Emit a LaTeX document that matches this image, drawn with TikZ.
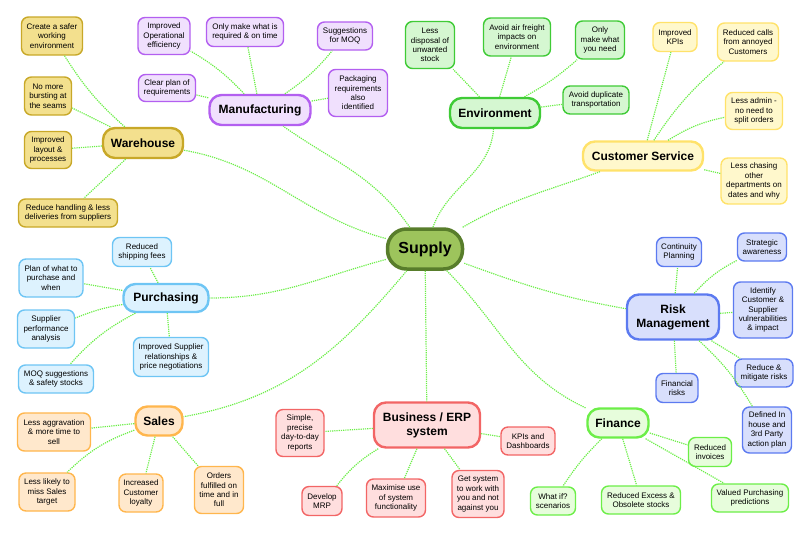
\documentclass[tikz,border=0pt]{standalone}
\usepackage{fontspec}
\setmainfont{Liberation Sans}

\definecolor{supfill}{HTML}{9DC45C}
\definecolor{supline}{HTML}{587D2B}
\definecolor{whfill}{HTML}{F3E08E}
\definecolor{whline}{HTML}{C8A828}
\definecolor{mffill}{HTML}{F0E0FD}
\definecolor{mfline}{HTML}{B35FF0}
\definecolor{envfill}{HTML}{D5F7D1}
\definecolor{envline}{HTML}{3FCB36}
\definecolor{csfill}{HTML}{FFF8CC}
\definecolor{csline}{HTML}{FFE26A}
\definecolor{purfill}{HTML}{DDF2FE}
\definecolor{purline}{HTML}{6EC5F4}
\definecolor{riskfill}{HTML}{D8DFFC}
\definecolor{riskline}{HTML}{5C7AF0}
\definecolor{salesfill}{HTML}{FFE8CC}
\definecolor{salesline}{HTML}{FFB64D}
\definecolor{erpfill}{HTML}{FFDEDE}
\definecolor{erpline}{HTML}{F26565}
\definecolor{finfill}{HTML}{E7FDDC}
\definecolor{finline}{HTML}{6CEE48}

\tikzset{
  topic/.style={draw, line width=2.4pt, rounded corners=12pt, align=center,
    inner sep=2pt, font=\bfseries\fontsize{12}{14}\selectfont},
  idea/.style={draw, line width=1.4pt, rounded corners=7pt, align=center,
    inner sep=1.5pt, font=\fontsize{8}{9.4}\selectfont},
  sz/.style 2 args={minimum width=#1pt, minimum height=#2pt},
  link/.style={densely dotted, line width=1.2pt},
  wh/.style={fill=whfill, draw=whline},
  mf/.style={fill=mffill, draw=mfline},
  env/.style={fill=envfill, draw=envline},
  cs/.style={fill=csfill, draw=csline},
  pur/.style={fill=purfill, draw=purline},
  risk/.style={fill=riskfill, draw=riskline},
  sales/.style={fill=salesfill, draw=salesline},
  erp/.style={fill=erpfill, draw=erpline},
  fin/.style={fill=finfill, draw=finline},
}

\begin{document}
\begin{tikzpicture}[x=1pt, y=1pt]
    \useasboundingbox (0,0) rectangle (810,-536);

    % centre and main topics
    \node[topic, sz={75}{40}, fill=supfill, draw=supline, line width=3.5pt, rounded corners=19pt,
      font=\bfseries\fontsize{16}{18}\selectfont] (sup) at (425,-249) {Supply};
    \node[topic, wh, sz={80}{30}] (wh) at (143,-143) {Warehouse};
    \node[topic, mf, sz={101}{30}] (mf) at (260,-110) {Manufacturing};
    \node[topic, env, sz={90}{30}] (env) at (495,-113) {Environment};
    \node[topic, cs, sz={120}{29}] (cs) at (643,-156) {Customer Service};
    \node[topic, pur, sz={85}{28}] (pur) at (166,-298) {Purchasing};
    \node[topic, risk, sz={92}{45}] (risk) at (673,-317) {Risk\\Management};
    \node[topic, sales, sz={47}{29}] (sales) at (159,-421) {Sales};
    \node[topic, erp, sz={106}{45}] (erp) at (427,-425) {Business / ERP\\system};
    \node[topic, fin, sz={61}{29}] (fin) at (618,-423) {Finance};

    % warehouse
    \node[idea, wh, sz={61}{38}] (wh1) at (52,-36) {Create a safer\\working\\environment};
    \node[idea, wh, sz={47}{38}] (wh2) at (48,-96) {No more\\bursting at\\the seams};
    \node[idea, wh, sz={47}{37}] (wh3) at (48,-150) {Improved\\layout \&\\processes};
    \node[idea, wh, sz={99}{28}] (wh4) at (68,-213) {Reduce handling \& less\\deliveries from suppliers};

    % manufacturing
    \node[idea, mf, sz={52}{37}] (mf1) at (164,-36) {Improved\\Operational\\efficiency};
    \node[idea, mf, sz={77}{29}] (mf2) at (245,-32) {Only make what is\\required \& on time};
    \node[idea, mf, sz={55}{28}] (mf3) at (345,-36) {Suggestions\\for MOQ};
    \node[idea, mf, sz={57}{27}] (mf4) at (167,-88) {Clear plan of\\requirements};
    \node[idea, mf, sz={59}{47}] (mf5) at (358,-93) {Packaging\\requirements\\also\\identified};

    % environment
    \node[idea, env, sz={49}{47}] (env1) at (430,-45) {Less\\disposal of\\unwanted\\stock};
    \node[idea, env, sz={67}{38}] (env2) at (517,-37) {Avoid air freight\\impacts on\\environment};
    \node[idea, env, sz={49}{38}] (env3) at (600,-40) {Only\\make what\\you need};
    \node[idea, env, sz={66}{28}] (env4) at (596,-100) {Avoid duplicate\\transportation};

    % customer service
    \node[idea, cs, sz={44}{29}] (cs1) at (675,-37) {Improved\\KPIs};
    \node[idea, cs, sz={61}{38}] (cs2) at (748,-42) {Reduced calls\\from annoyed\\Customers};
    \node[idea, cs, sz={57}{37}] (cs3) at (754,-111) {Less admin -\\no need to\\split orders};
    \node[idea, cs, sz={66}{46}] (cs4) at (754,-181) {Less chasing\\other\\departments on\\dates and why};

    % purchasing
    \node[idea, pur, sz={59}{29}] (pur1) at (142,-252) {Reduced\\shipping fees};
    \node[idea, pur, sz={64}{38}] (pur2) at (51,-278) {Plan of what to\\purchase and\\when};
    \node[idea, pur, sz={57}{38}] (pur3) at (46,-329) {Supplier\\performance\\analysis};
    \node[idea, pur, sz={75}{28}] (pur4) at (56,-379) {MOQ suggestions\\\& safety stocks};
    \node[idea, pur, sz={75}{39}] (pur5) at (171,-357) {Improved Supplier\\relationships \&\\price negotiations};

    % risk management
    \node[idea, risk, sz={45}{29}] (risk1) at (679,-252) {Continuity\\Planning};
    \node[idea, risk, sz={49}{28}] (risk2) at (762,-247) {Strategic\\awareness};
    \node[idea, risk, sz={59}{56}] (risk3) at (763,-310) {Identify\\Customer \&\\Supplier\\vulnerabilities\\\& impact};
    \node[idea, risk, sz={58}{28}] (risk4) at (764,-373) {Reduce \&\\mitigate risks};
    \node[idea, risk, sz={42}{29}] (risk5) at (677,-388) {Financial\\risks};
    \node[idea, risk, sz={49}{46}] (risk6) at (767,-430) {Defined In\\house and\\3rd Party\\action plan};

    % sales
    \node[idea, sales, sz={73}{38}] (sales1) at (54,-432) {Less aggravation\\\& more time to\\sell};
    \node[idea, sales, sz={56}{38}] (sales2) at (47,-492) {Less likely to\\miss Sales\\target};
    \node[idea, sales, sz={44}{38}] (sales3) at (141,-493) {Increased\\Customer\\loyalty};
    \node[idea, sales, sz={49}{47}] (sales4) at (219,-490) {Orders\\fulfilled on\\time and in\\full};

    % business / erp
    \node[idea, erp, sz={48}{47}] (erp1) at (300,-433) {Simple,\\precise\\day-to-day\\reports};
    \node[idea, erp, sz={54}{28}] (erp2) at (528,-441) {KPIs and\\Dashboards};
    \node[idea, erp, sz={40}{29}] (erp3) at (322,-501) {Develop\\MRP};
    \node[idea, erp, sz={59}{38}] (erp4) at (396,-498) {Maximise use\\of system\\functionality};
    \node[idea, erp, sz={52}{47}] (erp5) at (478,-494) {Get system\\to work with\\you and not\\against you};

    % finance
    \node[idea, fin, sz={43}{29}] (fin1) at (710,-452) {Reduced\\invoices};
    \node[idea, fin, sz={45}{28}] (fin2) at (553,-501) {What if?\\scenarios};
    \node[idea, fin, sz={79}{28}] (fin3) at (641,-500) {Reduced Excess \&\\Obsolete stocks};
    \node[idea, fin, sz={77}{28}] (fin4) at (750,-498) {Valued Purchasing\\predictions};

    \path[link]
    (sup) [whline] edge [out=165,in=-10] (wh)
    (sup) [mfline] edge [out=125,in=-35] (mf)
    (sup) [envline] edge [out=70,in=-95] (env)
    (sup) [csline] edge [out=30,in=200] (cs)
    (sup) [purline] edge [out=195,in=0] (pur)
    (sup) [riskline] edge [out=-20,in=170] (risk)
    (sup) [salesline] edge [out=-130,in=10] (sales)
    (sup) [erpline] edge (erp)
    (sup) [finline] edge [out=-45,in=155] (fin)
    ;

    \path[link]
    (wh) [whline] edge [bend left=8] (wh1) edge (wh2) edge (wh3) edge (wh4)
    (mf) [mfline] edge [bend right=8] (mf1) edge (mf2) edge [bend right=8] (mf3) edge (mf4) edge (mf5)
    (env) [envline] edge (env1) edge (env2) edge [bend right=6] (env3) edge (env4)
    (cs) [csline] edge (cs1) edge [bend left=8] (cs2) edge [bend left=10] (cs3) edge (cs4)
    (pur) [purline] edge (pur1) edge (pur2) edge [bend right=6] (pur3) edge [bend right=10] (pur4) edge (pur5)
    (risk) [riskline] edge (risk1) edge [bend left=10] (risk2) edge (risk3) edge (risk4) edge (risk5) edge [bend left=8] (risk6)
    (sales) [salesline] edge (sales1) edge [bend right=12] (sales2) edge (sales3) edge (sales4)
    (erp) [erpline] edge (erp1) edge (erp2) edge [bend right=10] (erp3) edge (erp4) edge (erp5)
    (fin) [finline] edge (fin1) edge [bend right=6] (fin2) edge (fin3) edge (fin4)
    ;
\end{tikzpicture}
\end{document}
